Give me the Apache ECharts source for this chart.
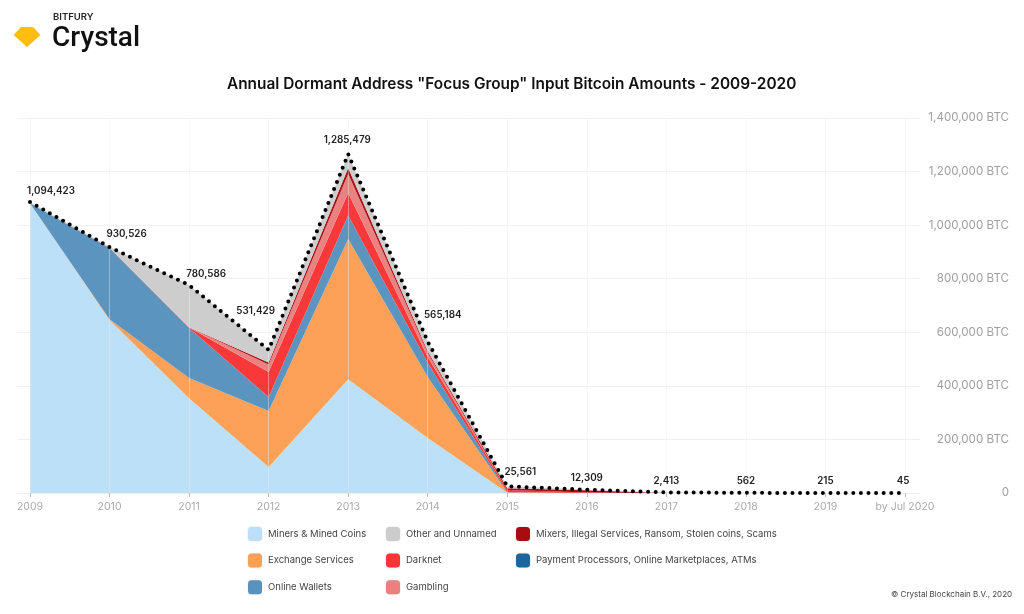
<!DOCTYPE html>
<html>
<head>
<meta charset="utf-8">
<style>html,body{margin:0;padding:0;background:#fff}#c{width:1024px;height:614px}</style>
<script src="https://cdn.jsdelivr.net/npm/echarts@6/dist/echarts.min.js"></script>
</head>
<body>
<div id="c"></div>
<script>
const years = ['2009','2010','2011','2012','2013','2014','2015','2016','2017','2018','2019','by Jul 2020'];
const miners   = [1082000,646000,354000, 97000,425000,205000,1000,0,0,0,0,0];
const exchange = [0,3000,75000,209000,523000,228000,1000,0,0,0,0,0];
const wallets  = [0,266000,187000,52000,86000,52000,1000,0,0,0,0,0];
const payments = [0,0,0,0,3000,1000,0,0,0,0,0,0];
const darknet  = [0,1000,2000,94000,83000,22000,8000,2000,0,0,0,0];
const gambling = [0,0,1000,28000,72000,16000,0,0,0,0,0,0];
const mixers   = [0,0,0,7000,21000,5000,7000,8000,300,0,0,0];
const other    = [4000,2000,157000,47000,52000,36000,7000,2300,1700,562,215,45];
const totals   = [1086000,918000,776000,534000,1265000,565000,25000,12300,2400,562,215,45];
const totalLabels = ['1,094,423','930,526','780,586','531,429','1,285,479','565,184','25,561','12,309','2,413','562','215','45'];
const labelOffsets = [[21,-6],[17,-8],[17,-6],[-13,-34],[-1,-9],[15,-22],[13,-9],[0,-7],[0,-6],[0,-7],[0,-7],[-2,-7]];

const layers = [
  ['Miners & Mined Coins', miners, '#BBDFF8'],
  ['Exchange Services', exchange, '#FD9F55'],
  ['Online Wallets', wallets, '#5892BD'],
  ['Payment Processors, Online Marketplaces, ATMs', payments, '#1C669F'],
  ['Darknet', darknet, '#F93535'],
  ['Gambling', gambling, '#EA8080'],
  ['Mixers, Illegal Services, Ransom, Stolen coins, Scams', mixers, '#A90B10'],
  ['Other and Unnamed', other, '#CCCCCC']
];
const legendCols = [
  {left:248, names:['Miners & Mined Coins','Exchange Services','Online Wallets']},
  {left:386, names:['Other and Unnamed','Darknet','Gambling']},
  {left:516, names:['Mixers, Illegal Services, Ransom, Stolen coins, Scams','Payment Processors, Online Marketplaces, ATMs']}
];
const font = 'Inter, Roboto, sans-serif';

const chart = echarts.init(document.getElementById('c'), null, {renderer:'canvas'});
const series = layers.map(([name,data,color]) => ({
  name, type:'line', stack:'total', data, xAxisIndex:0, yAxisIndex:0,
  symbol:'none', lineStyle:{width:0}, itemStyle:{color},
  areaStyle:{color, opacity:0.98}, z:2, silent:true
}));
series.push({
  name:'Total', type:'line', xAxisIndex:0, yAxisIndex:0, z:5, clip:false,
  data:totals.map((v,i)=>({value:v, label:{offset:labelOffsets[i]}})),
  symbol:'circle', symbolSize:0.1, showSymbol:true, showAllSymbol:true,
  itemStyle:{color:'#000',opacity:1},
  lineStyle:{color:'#000', width:4, type:[0,7.6], cap:'round'},
  label:{show:true, position:'top', distance:0, color:'#222', fontFamily:font, fontSize:9.8, fontWeight:600,
    formatter:p => totalLabels[p.dataIndex]}
});

chart.setOption({
  animation:false,
  backgroundColor:'#fff',
  grid:[
    {left:30, right:119, top:118, bottom:121},
    {left:17, right:104, top:118, bottom:121}
  ],
  xAxis:[
    {type:'category', gridIndex:0, data:years, boundaryGap:false, z:3,
     axisLine:{show:false},
     axisTick:{show:true, length:4, lineStyle:{color:'#bbb'}},
     axisLabel:{show:true, interval:0, margin:8, color:'#aaa', fontFamily:font, fontSize:10.5},
     splitLine:{show:true, interval:0, lineStyle:{color:'rgba(236,236,236,0.42)', width:1}}},
    {type:'value', gridIndex:1, show:false, min:0, max:1}
  ],
  yAxis:[
    {type:'value', gridIndex:0, min:0, max:1400000, interval:200000, show:false},
    {type:'value', gridIndex:1, position:'right', min:0, max:1400000, interval:200000, z:1,
     axisLine:{show:false}, axisTick:{show:false},
     splitLine:{show:true, lineStyle:{color:'#f0f0f0', width:1}},
     axisLabel:{show:true, align:'right', margin:89, color:'#a0a0a0', fontFamily:font, fontSize:11.6, padding:[2,0,0,0],
       formatter:v => v===0 ? '0' : v.toLocaleString('en-US')+' BTC'}}
  ],
  legend: legendCols.map(col => ({
    orient:'vertical', left:col.left, top:527, itemWidth:14, itemHeight:14, itemGap:12.6, padding:0,
    icon:'roundRect', selectedMode:false, data:col.names,
    textStyle:{color:'#444', fontFamily:font, fontSize:9.5, padding:[0,0,0,1]},
    itemStyle:{shadowBlur:2, shadowColor:'rgba(0,0,0,0.15)'}
  })),
  title:{show:false},
  graphic:[
    {type:'polygon', shape:{points:[[13.5,35],[21,27],[33,27],[40.5,35],[27,47]]}, style:{fill:'#FFBE0F'}},
    {type:'text', left:53, top:12, style:{text:'BITFURY', fill:'#222', font:'600 9.5px '+font}},
    {type:'text', left:52, top:25, style:{text:'Crystal', fill:'#111', font:'500 28px Roboto, sans-serif'}},
    {type:'text', left:227, top:77, style:{text:'Annual Dormant Address "Focus Group" Input Bitcoin Amounts - 2009-2020', fill:'#111', font:'600 15.4px Inter, Roboto, sans-serif'}},
    {type:'text', left:891, top:591, style:{text:'© Crystal Blockchain B.V., 2020', fill:'#444', font:'8px '+font}}
  ],
  series
});
</script>
</body>
</html>
